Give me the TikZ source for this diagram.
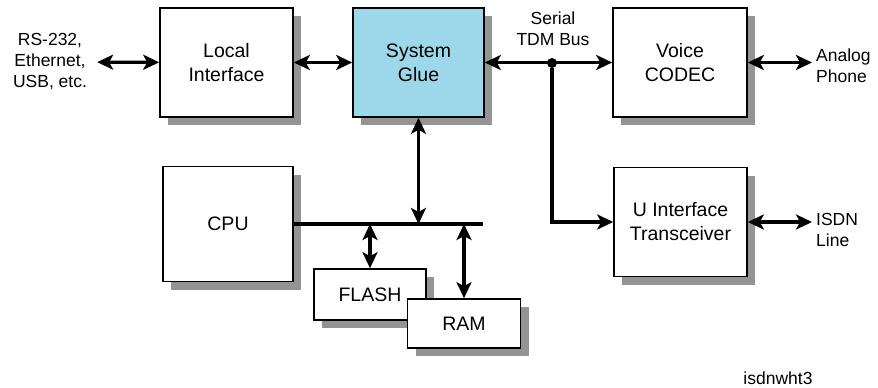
\documentclass[tikz,border=0pt]{standalone}
\usepackage{fontspec}
\setmainfont{Liberation Sans}
\usepackage{tikz}
\usetikzlibrary{arrows.meta, shadows, calc}
\definecolor{glueblue}{HTML}{9DD8EA}
\tikzset{
>={Stealth[length=16pt,width=15pt,inset=4pt]},
vh path/.style={to path={|- (\tikztotarget)}},
box/.style={%
    rectangle,
    draw=black,
    line width=1.6pt,
    fill=white,
    inner sep=0pt,
    align=center,
    font=\fontsize{19.5}{24}\selectfont,
    drop shadow={shadow xshift=8pt, shadow yshift=-8pt, fill=black!42, opacity=1}
},
tag/.style={%
    inner sep=4pt,
    font=\fontsize{17.5}{21}\selectfont
},
link/.style={line width=3.2pt},
biarrow/.style={link, <->},
uniarrow/.style={link, ->},
junction/.style={circle,inner sep=0pt,minimum size=10pt,fill=black},
}

\begin{document}
\begin{tikzpicture}[x=1pt, y=-1pt]
	\useasboundingbox (0,0) rectangle (878,388);

	\node[box, minimum width=133pt, minimum height=109pt] at (226.5,62.5) (li) {Local\\Interface};
	\node[box, minimum width=131pt, minimum height=109pt, fill=glueblue] at (418.5,62.5) (glue) {System\\Glue};
	\node[box, minimum width=134pt, minimum height=109pt] at (680,62.5) (codec) {Voice\\CODEC};
	\node[box, minimum width=133pt, minimum height=109pt] at (680.5,222) (uif) {U Interface\\Transceiver};
	\node[box, minimum width=130pt, minimum height=115pt] at (228,224) (cpu) {CPU};
	\node[box, minimum width=112pt, minimum height=51pt] at (370,294.5) (flash) {FLASH};
	\node[box, minimum width=113pt, minimum height=49pt] at (464,323.5) (ram) {RAM};

	\node[tag, align=center, inner sep=10pt] at (50,62) (ext) {RS-232,\\Ethernet,\\USB, etc.};
	\node[tag, align=center] at (553,29) (tdm) {Serial\\TDM Bus};
	\node[tag, align=left, anchor=west] at (812,66) (phone) {Analog\\Phone};
	\node[tag, align=left, anchor=west] at (812,230) (isdn) {ISDN\\Line};
	\node[tag] at (778,378) (fig) {isdnwht3};

	\node[junction] at (552,63) (jn) {};
	\coordinate (busend) at (483,224);

	\path (ext) edge[biarrow] (li);
	\path (li) edge[biarrow] (glue);
	\path (glue) edge[biarrow] (codec);
	\path (codec) edge[biarrow] (phone.west |- codec);
	\path (jn) edge[uniarrow, vh path] (uif);
	\path (uif) edge[biarrow] (isdn.west |- uif);

	\path (cpu.east) edge[link] (busend);
	\path (glue) edge[biarrow] (glue.south |- busend);
	\path (flash.north |- busend) edge[biarrow] (flash);
	\path (ram.north |- busend) edge[biarrow] (ram);
\end{tikzpicture}
\end{document}
